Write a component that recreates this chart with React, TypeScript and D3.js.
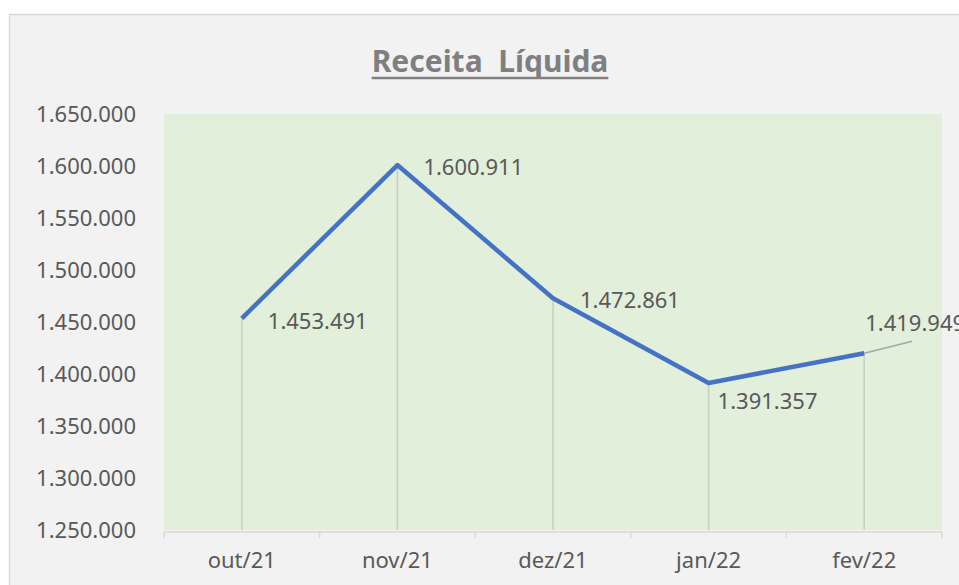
import { useEffect, useRef } from "react";
import * as d3 from "d3";

const categories = ["out/21", "nov/21", "dez/21", "jan/22", "fev/22"];
const receita = [1453491, 1600911, 1472861, 1391357, 1419949];
const yTicks = [1250000, 1300000, 1350000, 1400000, 1450000, 1500000, 1550000, 1600000, 1650000];

// deslocamento dos rótulos de dados em relação ao ponto
const labelOffsets = [
  { dx: 26, dy: 3 },
  { dx: 26, dy: 2 },
  { dx: 27, dy: 2 },
  { dx: 9, dy: 18 },
  { dx: 1, dy: -30, leader: true },
];

const fmt = (v: number) => v.toLocaleString("de-DE");

export default function App() {
  const svgRef = useRef<SVGSVGElement>(null);
  const width = 959;
  const height = 585;

  useEffect(() => {
    if (!svgRef.current) return;
    const svg = d3.select(svgRef.current);
    svg.selectAll("*").remove();

    const font = "'Noto Sans', sans-serif";
    const plot = { left: 164, right: 942, top: 114, bottom: 530 };

    // fundo
    svg.append("rect").attr("width", width).attr("height", height).attr("fill", "#ffffff");
    svg
      .append("rect")
      .attr("x", 9.5)
      .attr("y", 14.5)
      .attr("width", width)
      .attr("height", height)
      .attr("fill", "#f2f2f2")
      .attr("stroke", "#d9d9d9")
      .attr("stroke-width", 1.5);

    svg
      .append("rect")
      .attr("x", plot.left)
      .attr("y", plot.top)
      .attr("width", plot.right - plot.left)
      .attr("height", plot.bottom - plot.top)
      .attr("fill", "#e2efda");

    const x = d3.scaleBand().domain(categories).range([plot.left, plot.right]).padding(0);
    const y = d3
      .scaleLinear()
      .domain([yTicks[0], yTicks[yTicks.length - 1]])
      .range([plot.bottom, plot.top]);
    const cx = (c: string) => (x(c) || 0) + x.bandwidth() / 2;

    // título
    const title = svg
      .append("text")
      .attr("x", 490)
      .attr("y", 72)
      .attr("text-anchor", "middle")
      .style("font-family", font)
      .style("font-size", "30px")
      .style("font-weight", "700")
      .style("fill", "#7f7f7f")
      .style("white-space", "pre")
      .text("Receita  Líquida");
    const tb = (title.node() as SVGTextElement).getBBox();
    svg
      .append("line")
      .attr("x1", tb.x)
      .attr("x2", tb.x + tb.width)
      .attr("y1", 78)
      .attr("y2", 78)
      .attr("stroke", "#7f7f7f")
      .attr("stroke-width", 2.5);

    // eixo Y
    svg
      .append("g")
      .selectAll("text")
      .data(yTicks)
      .enter()
      .append("text")
      .attr("x", 136)
      .attr("y", (d) => y(d))
      .attr("dy", "0.35em")
      .attr("text-anchor", "end")
      .style("font-family", font)
      .style("font-size", "22px")
      .style("fill", "#595959")
      .text((d) => fmt(d));

    // eixo X
    const xAxis = svg.append("g").attr("transform", `translate(0,${plot.bottom + 2})`);
    xAxis
      .append("line")
      .attr("x1", plot.left)
      .attr("x2", plot.right)
      .attr("stroke", "#d9d9d9")
      .attr("stroke-width", 1.5);
    const bounds = categories.map((c) => x(c) || 0).concat([plot.right]);
    xAxis
      .selectAll(".tick")
      .data(bounds)
      .enter()
      .append("line")
      .attr("x1", (d) => d)
      .attr("x2", (d) => d)
      .attr("y1", 0)
      .attr("y2", 6)
      .attr("stroke", "#d9d9d9")
      .attr("stroke-width", 1.5);
    xAxis
      .selectAll(".lbl")
      .data(categories)
      .enter()
      .append("text")
      .attr("x", (d) => cx(d))
      .attr("y", 28)
      .attr("dy", "0.35em")
      .attr("text-anchor", "middle")
      .style("font-family", font)
      .style("font-size", "22px")
      .style("fill", "#595959")
      .text((d) => d);

    // linhas de queda
    svg
      .append("g")
      .selectAll("line")
      .data(categories)
      .enter()
      .append("line")
      .attr("x1", (d) => cx(d))
      .attr("x2", (d) => cx(d))
      .attr("y1", (_d, i) => y(receita[i]))
      .attr("y2", plot.bottom)
      .attr("stroke", "#c9cdc6")
      .attr("stroke-width", 1.5);

    // linha
    const line = d3
      .line<number>()
      .x((_d, i) => cx(categories[i]))
      .y((d) => y(d));
    svg
      .append("path")
      .datum(receita)
      .attr("d", line)
      .attr("fill", "none")
      .attr("stroke", "#4472c4")
      .attr("stroke-width", 4.5)
      .attr("stroke-linejoin", "round");

    // rótulos
    receita.forEach((v, i) => {
      const px = cx(categories[i]);
      const py = y(v);
      const o = labelOffsets[i];
      if (o.leader) {
        svg
          .append("line")
          .attr("x1", px)
          .attr("y1", py)
          .attr("x2", px + 48)
          .attr("y2", py - 12)
          .attr("stroke", "#a6a6a6")
          .attr("stroke-width", 1.5);
      }
      svg
        .append("text")
        .attr("x", px + o.dx)
        .attr("y", py + o.dy)
        .attr("dy", "0.35em")
        .style("font-family", font)
        .style("font-size", "22px")
        .style("fill", "#595959")
        .text(fmt(v));
    });
  }, []);

  return (
    <svg
      ref={svgRef}
      width={width}
      height={height}
      viewBox={`0 0 ${width} ${height}`}
      style={{ position: "absolute", left: 0, top: 0, display: "block" }}
    />
  );
}
